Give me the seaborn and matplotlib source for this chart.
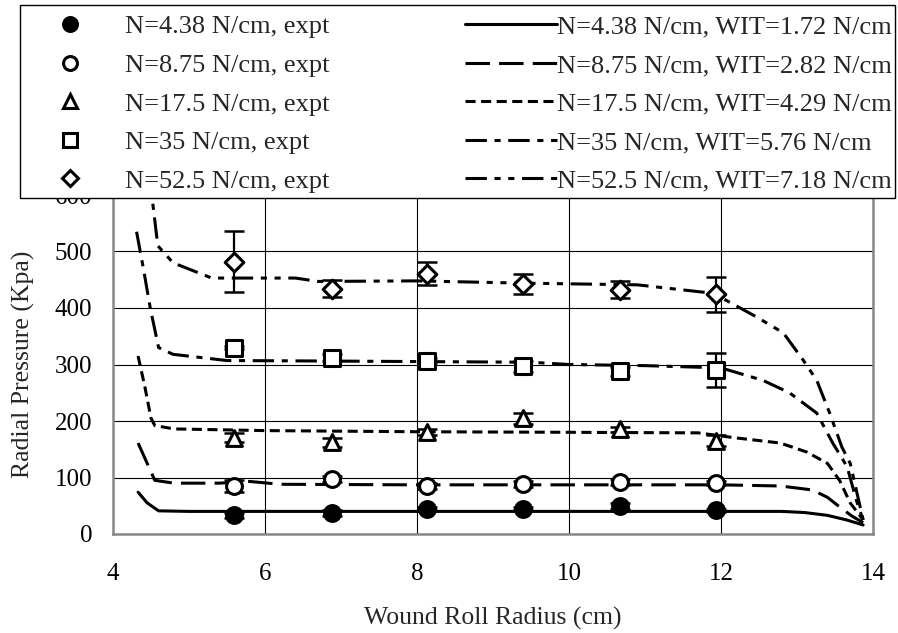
import numpy as np
import matplotlib
matplotlib.use("Agg")
import matplotlib.pyplot as plt
from matplotlib.lines import Line2D
from matplotlib.patches import Rectangle
import seaborn as sns

# -------------------------------
# Data
# -------------------------------
radius_expt = [5.59, 6.88, 8.13, 9.40, 10.67, 11.93]

p_438 = [33, 37, 45, 45, 50, 42]
e_438 = [5, 5, 3, 3, 5, 3]
p_875 = [85, 97, 85, 88, 92, 90]
e_875 = [10, 5, 5, 5, 5, 3]
p_175 = [170, 162, 180, 205, 185, 165]
e_175 = [8, 8, 5, 10, 5, 10]
p_35 = [330, 312, 307, 297, 288, 290]
e_35 = [3, 6, 5, 10, 8, 30]
p_525 = [482, 434, 461, 443, 432, 424]
e_525 = [54, 15, 20, 18, 15, 31]

r_fit_438 = [4.33, 4.45, 4.6, 5.0, 6, 8, 10, 12, 12.8, 13.1, 13.4, 13.65, 13.87]
p_fit_438 = [74, 55, 41, 40, 40, 40, 40, 40, 40, 38, 33, 25, 16]

r_fit_875 = [4.33, 4.45, 4.55, 4.8, 5.4, 5.8, 6.2, 8, 10, 12, 12.78, 13.2, 13.4, 13.56, 13.72, 13.87]
p_fit_875 = [161, 125, 95, 90, 90, 93, 88, 87, 87, 87, 85, 78, 65, 48, 32, 20]

r_fit_175 = [4.33, 4.42, 4.5, 4.55, 4.8, 6, 8, 10, 11.7, 12.2, 12.78, 13.13, 13.4, 13.56, 13.7, 13.87]
p_fit_175 = [315, 260, 205, 192, 186, 183, 181, 180, 179, 170, 161, 145, 125, 95, 55, 25]

r_fit_35 = [4.31, 4.4, 4.49, 4.6, 4.79, 5.5, 7, 9.5, 10, 11, 12, 12.55, 12.9, 13.26, 13.47, 13.66, 13.78, 13.87]
p_fit_35 = [535, 470, 400, 330, 318, 307, 306, 304, 300, 298, 294, 272, 250, 214, 161, 119, 60, 25]

r_fit_525 = [4.48, 4.51, 4.59, 4.79, 5.3, 6.4, 6.7, 8, 9.4, 10.9, 11.9, 12.47, 12.82, 13.08, 13.26, 13.43, 13.59, 13.7, 13.78, 13.87]
p_fit_525 = [660, 600, 510, 480, 453, 453, 447, 448, 444, 441, 426, 384, 356, 308, 272, 214, 154, 125, 78, 25]

expt_labels = ["N=4.38 N/cm, expt", "N=8.75 N/cm, expt", "N=17.5 N/cm, expt",
               "N=35 N/cm, expt", "N=52.5 N/cm, expt"]
fit_labels = ["N=4.38 N/cm, WIT=1.72 N/cm", "N=8.75 N/cm, WIT=2.82 N/cm",
              "N=17.5 N/cm, WIT=4.29 N/cm", "N=35 N/cm, WIT=5.76 N/cm",
              "N=52.5 N/cm, WIT=7.18 N/cm"]

# -------------------------------
# Styles
# -------------------------------
sns.set_style("white")
plt.rcParams['font.family'] = ['Liberation Serif', 'DejaVu Serif']

expt_series = [(p_438, e_438, 'o', 'black'),
               (p_875, e_875, 'o', 'white'),
               (p_175, e_175, '^', 'white'),
               (p_35, e_35, 's', 'white'),
               (p_525, e_525, 'D', 'white')]
fit_series = [(r_fit_438, p_fit_438, '-'),
              (r_fit_875, p_fit_875, (0, (8, 3))),
              (r_fit_175, p_fit_175, (0, (3.3, 1.8))),
              (r_fit_35, p_fit_35, (0, (7, 2.5, 2, 2.5))),
              (r_fit_525, p_fit_525, (0, (7, 2.5, 2, 2.5, 2, 2.5)))]

W, H = 898, 633
fig = plt.figure(figsize=(W / 100, H / 100), dpi=100)
ax = fig.add_axes([113 / W, 1 - 534 / H, 760 / W, 339 / H])

for r, p, ls in fit_series:
    sns.lineplot(x=r, y=p, ax=ax, color='black', linestyle=ls, linewidth=2.2,
                 sort=False, estimator=None)

for (p, e, m, fc) in expt_series:
    ax.errorbar(radius_expt, p, yerr=e, fmt='none', ecolor='black',
                elinewidth=1.6, capsize=7, capthick=1.8, zorder=3)
    sns.scatterplot(x=radius_expt, y=p, ax=ax, marker=m, s=130 if m != 'D' else 90,
                    color=fc, edgecolor='black', linewidth=2.2, zorder=4)

ax.set_xlim(4, 14)
ax.set_ylim(0, 600)
ax.set_xticks([4, 6, 8, 10, 12, 14])
ax.set_yticks(range(0, 700, 100))
ax.grid(True, color='black', linewidth=0.8)
ax.tick_params(axis='both', direction='out', length=6, width=0.8,
               labelsize=18, colors='black')
ax.tick_params(axis='x', pad=15)
ax.tick_params(axis='y', pad=9)
for side in ['left', 'bottom', 'right']:
    ax.spines[side].set_color('#888888')
    ax.spines[side].set_linewidth(1.8)
ax.spines['top'].set_visible(False)

ax.set_xlabel("Wound Roll Radius (cm)", fontsize=18.5, labelpad=16)
ax.set_ylabel("Radial Pressure (Kpa)", fontsize=18.5, labelpad=14)

# -------------------------------
# Legend: white box over the top of the plot, two columns
# -------------------------------
frame = Rectangle((20 / W, 1 - 198 / H), 875 / W, 193 / H, transform=fig.transFigure,
                  facecolor='white', edgecolor='black', linewidth=1.0, zorder=2)
fig.patches.append(frame)

fs = 19
fs_px = fs * 100 / 72

marker_handles = [Line2D([], [], linestyle='none', marker=m, markerfacecolor=fc,
                         markeredgecolor='black', markeredgewidth=2.2,
                         markersize=10 if m != 'D' else 8.5)
                  for (p, e, m, fc) in expt_series]
line_handles = [Line2D([], [], color='black', linestyle=ls, linewidth=2.2)
                for r, p, ls in fit_series]

common = dict(loc='upper left', fontsize=fs, frameon=False, borderpad=0,
              borderaxespad=0, labelspacing=0.57)
leg1 = fig.legend(marker_handles, expt_labels, bbox_to_anchor=(40 / W, 1 - 15 / H),
                  handlelength=60 / fs_px, handletextpad=25 / fs_px, **common)
leg2 = fig.legend(line_handles, fit_labels, bbox_to_anchor=(465 / W, 1 - 15 / H),
                  handlelength=92 / fs_px, handletextpad=0.0, **common)
leg1.set_zorder(6)
leg2.set_zorder(6)

fig.savefig("out.png", dpi=100)
